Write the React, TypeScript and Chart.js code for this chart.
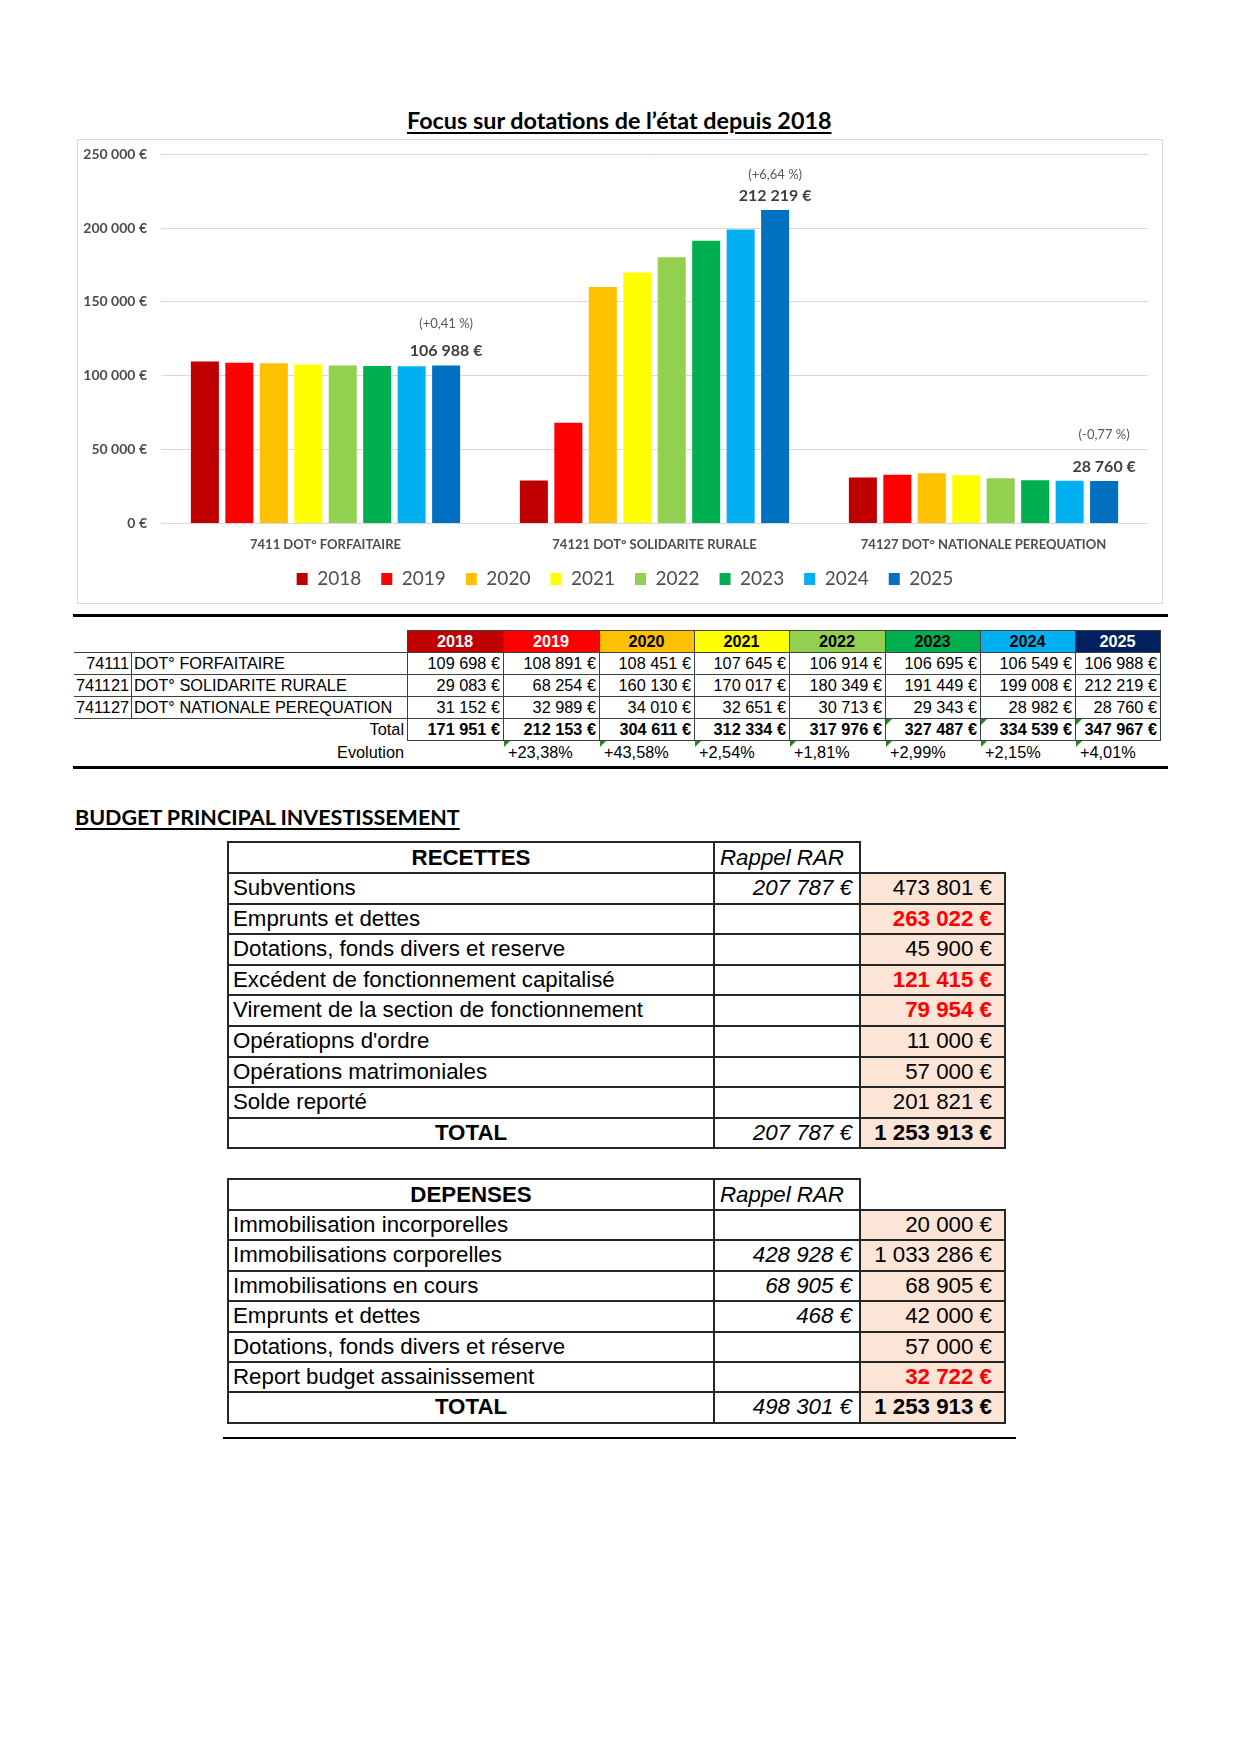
import React, { useEffect, useRef } from "react";
import { Chart, registerables } from "chart.js";

Chart.register(...registerables);

// ---------- Data ----------
const years = ["2018", "2019", "2020", "2021", "2022", "2023", "2024", "2025"];
const categories = [
  "7411 DOT° FORFAITAIRE",
  "74121 DOT° SOLIDARITE RURALE",
  "74127 DOT° NATIONALE PEREQUATION",
];
const forfaitaire = [109698, 108891, 108451, 107645, 106914, 106695, 106549, 106988];
const solidarite = [29083, 68254, 160130, 170017, 180349, 191449, 199008, 212219];
const perequation = [31152, 32989, 34010, 32651, 30713, 29343, 28982, 28760];
const lastChangeLabels = ["(+0,41 %)", "(+6,64 %)", "(-0,77 %)"];
const yMax = 250000;
const yStep = 50000;

const tableCodes = ["74111", "741121", "741127"];
const tableLabels = ["DOT° FORFAITAIRE", "DOT° SOLIDARITE RURALE", "DOT° NATIONALE PEREQUATION"];
const totals = [171951, 212153, 304611, 312334, 317976, 327487, 334539, 347967];
const evolutions = ["", "+23,38%", "+43,58%", "+2,54%", "+1,81%", "+2,99%", "+2,15%", "+4,01%"];

const recettesLabels = [
  "Subventions",
  "Emprunts et dettes",
  "Dotations, fonds divers et reserve",
  "Excédent de fonctionnement capitalisé",
  "Virement de la section de fonctionnement",
  "Opératiopns d'ordre",
  "Opérations matrimoniales",
  "Solde reporté",
];
const recettesRAR: (number | null)[] = [207787, null, null, null, null, null, null, null];
const recettesAmounts = [473801, 263022, 45900, 121415, 79954, 11000, 57000, 201821];
const recettesHighlighted = [false, true, false, true, true, false, false, false];
const recettesTotalRAR = 207787;
const recettesTotal = 1253913;

const depensesLabels = [
  "Immobilisation incorporelles",
  "Immobilisations corporelles",
  "Immobilisations en cours",
  "Emprunts et dettes",
  "Dotations, fonds divers et réserve",
  "Report budget assainissement",
];
const depensesRAR: (number | null)[] = [null, 428928, 68905, 468, null, null];
const depensesAmounts = [20000, 1033286, 68905, 42000, 57000, 32722];
const depensesHighlighted = [false, false, false, false, false, true];
const depensesTotalRAR = 498301;
const depensesTotal = 1253913;

// ---------- Styles ----------
const yearColors = ["#C00000", "#FF0000", "#FFC000", "#FFFF00", "#92D050", "#00B050", "#00B0F0", "#0070C0"];
const headerColors = ["#C00000", "#FF0000", "#FFC000", "#FFFF00", "#92D050", "#00B050", "#00B0F0", "#002060"];
const headerTextColors = ["#FFFFFF", "#FFFFFF", "#000000", "#000000", "#000000", "#000000", "#000000", "#FFFFFF"];
const pctLabelOffsets = [42, 35, 46];
const ARIAL = '"Liberation Sans", Arial, sans-serif';
const CHART_FONT = "Lato";
const T1_SIZE = 16.3;
const BT_SIZE = 22.3;

function fmt(n: number): string {
  return String(Math.round(n)).replace(/\B(?=(\d{3})+(?!\d))/g, " ") + " €";
}

let measureCtx: CanvasRenderingContext2D | null = null;
function measure(text: string, font: string): number {
  if (!measureCtx) measureCtx = document.createElement("canvas").getContext("2d");
  if (!measureCtx) return 0;
  measureCtx.font = font;
  return measureCtx.measureText(text).width;
}

function FitText(props: {
  text: string; left: number; top: number; width: number; size: number;
  weight?: string; family?: string; underline?: boolean;
}) {
  const { text, left, top, width, size, weight = "bold", family = CHART_FONT, underline } = props;
  const m = measure(text, `${weight} ${size}px ${family}`);
  const scale = m > 0 ? width / m : 1;
  return (
    <div
      style={{
        position: "absolute", left, top, whiteSpace: "nowrap",
        fontFamily: family, fontWeight: weight as any, fontSize: size,
        lineHeight: `${size * 1.2}px`, color: "#000",
        transform: `scaleX(${scale})`, transformOrigin: "left top",
        textDecoration: underline ? "underline" : "none",
        textDecorationThickness: "2px", textUnderlineOffset: "3px",
      }}
    >
      {text}
    </div>
  );
}

function HLine({ x1, x2, y, w = 1, c = "#404040" }: any) {
  return <div style={{ position: "absolute", left: x1 - w / 2, top: y - w / 2, width: x2 - x1 + w, height: w, background: c }} />;
}
function VLine({ x, y1, y2, w = 1, c = "#404040" }: any) {
  return <div style={{ position: "absolute", left: x - w / 2, top: y1 - w / 2, width: w, height: y2 - y1 + w, background: c }} />;
}

function Cell(props: any) {
  const { x, y, w, h, bg, align = "left", pad = 3, size = T1_SIZE, bold, italic, color = "#000", children } = props;
  return (
    <div
      style={{
        position: "absolute", left: x, top: y, width: w, height: h, background: bg || "transparent",
        boxSizing: "border-box", padding: align === "right" ? `0 ${pad}px 0 0` : align === "left" ? `0 0 0 ${pad}px` : 0,
        textAlign: align, fontFamily: ARIAL, fontSize: size, lineHeight: `${h}px`,
        fontWeight: bold ? "bold" : "normal", fontStyle: italic ? "italic" : "normal",
        color, whiteSpace: "nowrap", overflow: "visible",
      }}
    >
      {children}
    </div>
  );
}

function Triangle({ x, y }: { x: number; y: number }) {
  return (
    <div style={{ position: "absolute", left: x + 1, top: y + 1, width: 6, height: 6, background: "#1E8C1E", clipPath: "polygon(0 0, 100% 0, 0 100%)" }} />
  );
}

// ---------- Chart ----------
const endLabelsPlugin = {
  id: "endLabels",
  afterLayout(chart: any) {
    if (chart.legend) {
      chart.legend.left += 12;
      chart.legend.right += 12;
    }
  },
  afterDatasetsDraw(chart: any) {
    const ctx = chart.ctx;
    const last = chart.data.datasets.length - 1;
    const meta = chart.getDatasetMeta(last);
    meta.data.forEach((bar: any, i: number) => {
      const v = chart.data.datasets[last].data[i] as number;
      ctx.save();
      ctx.textAlign = "center";
      ctx.textBaseline = "middle";
      ctx.fillStyle = "#404040";
      ctx.font = `bold 16px ${CHART_FONT}`;
      ctx.fillText(fmt(v), bar.x, bar.y - 14.5);
      ctx.fillStyle = "#595959";
      ctx.font = `13px ${CHART_FONT}`;
      ctx.fillText(lastChangeLabels[i], bar.x, bar.y - pctLabelOffsets[i]);
      ctx.restore();
    });
  },
};

function DotationsChart() {
  const ref = useRef<HTMLCanvasElement | null>(null);
  useEffect(() => {
    if (!ref.current) return;
    const chart = new Chart(ref.current, {
      type: "bar",
      data: {
        labels: categories,
        datasets: years.map((y, i) => ({
          label: y,
          data: [forfaitaire[i], solidarite[i], perequation[i]],
          backgroundColor: yearColors[i],
          borderWidth: 0,
          barPercentage: 0.813,
          categoryPercentage: 0.838,
        })),
      },
      options: {
        animation: false,
        responsive: false,
        maintainAspectRatio: false,
        layout: { padding: { top: 14.3, right: 14, bottom: 4.5, left: 0 } },
        plugins: {
          legend: {
            position: "bottom",
            labels: {
              boxWidth: 11, boxHeight: 12, padding: 20, color: "#4D4D4D",
              font: { family: CHART_FONT, size: 19 },
            },
          },
          tooltip: { enabled: false },
        },
        scales: {
          x: {
            grid: { display: false, drawTicks: false },
            border: { display: false },
            ticks: { color: "#4D4D4D", padding: 14, font: { family: CHART_FONT, size: 13, weight: "bold" } },
            afterFit: (s: any) => { s.height = 26; },
          },
          y: {
            min: 0, max: yMax,
            grid: { color: "#D9D9D9", drawTicks: false },
            border: { display: false },
            ticks: {
              stepSize: yStep, padding: 14, color: "#4D4D4D",
              font: { family: CHART_FONT, size: 14, weight: "bold" },
              callback: (v: any) => fmt(Number(v)),
            },
            afterFit: (s: any) => { s.width = 83; s.paddingTop = 0; s.paddingBottom = 0; },
          },
        },
      } as any,
      plugins: [endLabelsPlugin],
    });
    return () => chart.destroy();
  }, []);
  return (
    <>
      <div style={{ position: "absolute", left: 77, top: 139, width: 1086, height: 465, border: "1px solid #D9D9D9", boxSizing: "border-box" }} />
      <canvas ref={ref} width={1084} height={463} style={{ position: "absolute", left: 78, top: 140, width: 1084, height: 463 }} />
    </>
  );
}

// ---------- Data table under the chart ----------
const t1X = [74, 131, 407, 503, 599, 694, 789, 885, 980, 1075, 1160];
const t1Y = [630, 652, 674, 696, 718, 740, 762];

function DotationsTable() {
  const els: any[] = [];
  const rowsData = [forfaitaire, solidarite, perequation];
  years.forEach((y, i) => {
    els.push(
      <Cell key={`h${i}`} x={t1X[i + 2]} y={t1Y[0]} w={t1X[i + 3] - t1X[i + 2]} h={t1Y[1] - t1Y[0]} bg={headerColors[i]} align="center" bold color={headerTextColors[i]}>{y}</Cell>
    );
  });
  rowsData.forEach((row, r) => {
    const y = t1Y[r + 1], h = t1Y[r + 2] - t1Y[r + 1];
    els.push(<Cell key={`c${r}`} x={t1X[0]} y={y} w={t1X[1] - t1X[0]} h={h} align="right" pad={2}>{tableCodes[r]}</Cell>);
    els.push(<Cell key={`l${r}`} x={t1X[1]} y={y} w={t1X[2] - t1X[1]} h={h} align="left" pad={3}>{tableLabels[r]}</Cell>);
    row.forEach((v, i) => {
      els.push(<Cell key={`v${r}_${i}`} x={t1X[i + 2]} y={y} w={t1X[i + 3] - t1X[i + 2]} h={h} align="right" pad={3}>{fmt(v)}</Cell>);
    });
  });
  {
    const y = t1Y[4], h = t1Y[5] - t1Y[4];
    els.push(<Cell key="tl" x={t1X[1]} y={y} w={t1X[2] - t1X[1]} h={h} align="right" pad={3}>Total</Cell>);
    totals.forEach((v, i) => {
      els.push(<Cell key={`t${i}`} x={t1X[i + 2]} y={y} w={t1X[i + 3] - t1X[i + 2]} h={h} align="right" pad={3} bold>{fmt(v)}</Cell>);
    });
  }
  {
    const y = t1Y[5], h = t1Y[6] - t1Y[5] + 2;
    els.push(<Cell key="el" x={t1X[1]} y={y} w={t1X[2] - t1X[1]} h={h} align="right" pad={3}>Evolution</Cell>);
    evolutions.forEach((e, i) => {
      if (!e) return;
      els.push(<Cell key={`e${i}`} x={t1X[i + 2]} y={y} w={t1X[i + 3] - t1X[i + 2]} h={h} align="left" pad={5}>{e}</Cell>);
      els.push(<Triangle key={`et${i}`} x={t1X[i + 2]} y={t1Y[5]} />);
    });
    [5, 6, 7].forEach((i) => els.push(<Triangle key={`tt${i}`} x={t1X[i + 2]} y={t1Y[4]} />));
  }
  els.push(<HLine key="hl0" x1={t1X[2]} x2={t1X[10]} y={t1Y[0]} />);
  [1, 2, 3, 4].forEach((r) => els.push(<HLine key={`hl${r}`} x1={t1X[0]} x2={t1X[10]} y={t1Y[r]} />));
  els.push(<HLine key="hl5" x1={t1X[2]} x2={t1X[10]} y={t1Y[5]} />);
  els.push(<VLine key="vc" x={t1X[1]} y1={t1Y[1]} y2={t1Y[4]} />);
  for (let i = 2; i <= 10; i++) els.push(<VLine key={`vl${i}`} x={t1X[i]} y1={t1Y[0]} y2={t1Y[5]} />);
  els.push(<HLine key="thick1" x1={74} x2={1166} y={615} w={3} c="#000" />);
  els.push(<HLine key="thick2" x1={74} x2={1166} y={767} w={3} c="#000" />);
  return <>{els}</>;
}

// ---------- Budget tables ----------
const bX = [228, 714, 860, 1005];

function BudgetTable(props: {
  top: number; headerBottom: number; rowH: number; title: string;
  labels: string[]; rar: (number | null)[]; amounts: number[]; highlighted: boolean[];
  totalRAR: number; total: number;
}) {
  const { top, headerBottom, rowH, title, labels, rar, amounts, highlighted, totalRAR, total } = props;
  const els: any[] = [];
  const n = labels.length + 1;
  const bottom = headerBottom + n * rowH;
  els.push(<div key="fill" style={{ position: "absolute", left: bX[2], top: headerBottom, width: bX[3] - bX[2], height: bottom - headerBottom, background: "#FCE4D6" }} />);
  els.push(<Cell key="ht" x={bX[0]} y={top} w={bX[1] - bX[0]} h={headerBottom - top} align="center" size={BT_SIZE} bold>{title}</Cell>);
  els.push(<Cell key="hr" x={bX[1]} y={top} w={bX[2] - bX[1]} h={headerBottom - top} align="left" pad={6} size={BT_SIZE} italic>Rappel RAR</Cell>);
  labels.forEach((l, i) => {
    const y = headerBottom + i * rowH;
    els.push(<Cell key={`l${i}`} x={bX[0]} y={y} w={bX[1] - bX[0]} h={rowH} align="left" pad={5} size={BT_SIZE}>{l}</Cell>);
    const r = rar[i];
    if (r !== null && r !== undefined) {
      els.push(<Cell key={`r${i}`} x={bX[1]} y={y} w={bX[2] - bX[1]} h={rowH} align="right" pad={8} size={BT_SIZE} italic>{fmt(r)}</Cell>);
    }
    els.push(
      <Cell key={`a${i}`} x={bX[2]} y={y} w={bX[3] - bX[2]} h={rowH} align="right" pad={13} size={BT_SIZE}
        bold={highlighted[i]} color={highlighted[i] ? "#FF0000" : "#000"}>{fmt(amounts[i])}</Cell>
    );
  });
  const ty = headerBottom + labels.length * rowH;
  els.push(<Cell key="tl" x={bX[0]} y={ty} w={bX[1] - bX[0]} h={rowH} align="center" size={BT_SIZE} bold>TOTAL</Cell>);
  els.push(<Cell key="tr" x={bX[1]} y={ty} w={bX[2] - bX[1]} h={rowH} align="right" pad={8} size={BT_SIZE} italic>{fmt(totalRAR)}</Cell>);
  els.push(<Cell key="ta" x={bX[2]} y={ty} w={bX[3] - bX[2]} h={rowH} align="right" pad={13} size={BT_SIZE} bold>{fmt(total)}</Cell>);
  const lc = "#262626";
  els.push(<HLine key="h0" x1={bX[0]} x2={bX[2]} y={top} w={2} c={lc} />);
  for (let k = 0; k <= n; k++) {
    els.push(<HLine key={`h${k + 1}`} x1={bX[0]} x2={bX[3]} y={headerBottom + k * rowH} w={2} c={lc} />);
  }
  els.push(<VLine key="v0" x={bX[0]} y1={top} y2={bottom} w={2} c={lc} />);
  els.push(<VLine key="v1" x={bX[1]} y1={top} y2={bottom} w={2} c={lc} />);
  els.push(<VLine key="v2" x={bX[2]} y1={top} y2={bottom} w={2} c={lc} />);
  els.push(<VLine key="v3" x={bX[3]} y1={headerBottom} y2={bottom} w={2} c={lc} />);
  return <>{els}</>;
}

export default function App() {
  return (
    <div style={{ position: "absolute", left: 0, top: 0, width: 1240, height: 1754, background: "#fff", overflow: "hidden" }}>
      <FitText text="Focus sur dotations de l’état depuis 2018" left={407} top={107.5} width={425} size={22} underline />
      <DotationsChart />
      <DotationsTable />
      <FitText text="BUDGET PRINCIPAL INVESTISSEMENT" left={75} top={803.5} width={386} size={21} underline />
      <BudgetTable
        top={842} headerBottom={873} rowH={30.6} title="RECETTES"
        labels={recettesLabels} rar={recettesRAR} amounts={recettesAmounts} highlighted={recettesHighlighted}
        totalRAR={recettesTotalRAR} total={recettesTotal}
      />
      <BudgetTable
        top={1179} headerBottom={1210} rowH={30.4} title="DEPENSES"
        labels={depensesLabels} rar={depensesRAR} amounts={depensesAmounts} highlighted={depensesHighlighted}
        totalRAR={depensesTotalRAR} total={depensesTotal}
      />
      <HLine x1={224} x2={1015} y={1438} w={2} c="#000" />
    </div>
  );
}
